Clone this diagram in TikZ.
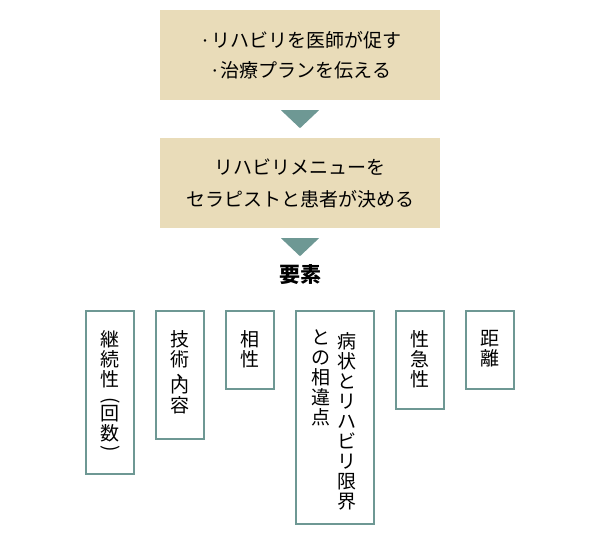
\documentclass[tikz,border=0pt]{standalone}
\usepackage{fontspec}
\setmainfont{Noto Sans CJK JP}
\begin{document}
\begin{tikzpicture}[x=1pt, y=-1pt, font=\fontsize{19}{22}\selectfont]

    %styles
    \tikzset{
        stepbox/.style={fill=beige, minimum width=280pt, minimum height=90pt, align=center, inner sep=0pt},
        item/.style={draw=teal, line width=2pt, anchor=north, minimum width=48pt, align=center, text depth=0pt, inner sep=0pt},
        vtext/.style={anchor=north, align=center, inner sep=0pt, font=\fontsize{19}{20}\selectfont}
    }
    \definecolor{beige}{HTML}{E9DCB9}
    \definecolor{teal}{HTML}{6E9894}

    \useasboundingbox (0,0) rectangle (600,535);

    % nodes
    \node[stepbox] (top) at (300,55) {\raisebox{0.1em}{\fontsize{12}{12}\selectfont ・}リハビリを医師が促す\\[8pt]\raisebox{0.1em}{\fontsize{12}{12}\selectfont ・}治療プランを伝える\hspace{1em}};
    \node[stepbox] (mid) at (300,183) {リハビリメニューを\\[10pt]セラピストと患者が決める};
    \node[font=\fontsize{21}{24}\selectfont\bfseries] (head) at (300,275) {要素};

    \node[item, minimum height=163pt] (b1) at (110,310) {};
    \node[item, minimum height=128pt] (b2) at (180,310) {};
    \node[item, minimum height=78pt] (b3) at (250,310) {};
    \node[item, minimum width=78pt, minimum height=213pt] (b4) at (335,310) {};
    \node[item, minimum height=98pt] (b5) at (420,310) {};
    \node[item, minimum height=78pt] (b6) at (490,310) {};

    \node[vtext] at ([yshift=-20pt]b1.north) {継\\続\\性\\\rotatebox[origin=c]{-90}{(}\\[-6pt]回\\数\\[-6pt]\rotatebox[origin=c]{-90}{)}};
    \node[vtext] at ([yshift=-20pt]b2.north) {技\\術\\[-8pt]\hspace{0.6em}、\\[-6pt]内\\容};
    \node[vtext] at ([yshift=-20pt]b3.north) {相\\性};
    \node[vtext] at ([xshift=12pt, yshift=-22pt]b4.north) {病\\状\\と\\リ\\ハ\\ビ\\リ\\限\\界};
    \node[vtext] at ([xshift=-14pt, yshift=-20pt]b4.north) {と\\の\\相\\違\\点};
    \node[vtext] at ([yshift=-20pt]b5.north) {性\\急\\性};
    \node[vtext] at ([yshift=-20pt]b6.north) {距\\離};

    % arrows
    \fill[teal] ([yshift=-10pt, xshift=-19pt]top.south) -- ([yshift=-10pt, xshift=19pt]top.south) -- ([yshift=-28pt]top.south) -- cycle;
    \fill[teal] ([yshift=-10pt, xshift=-19pt]mid.south) -- ([yshift=-10pt, xshift=19pt]mid.south) -- ([yshift=-28pt]mid.south) -- cycle;
\end{tikzpicture}
\end{document}
